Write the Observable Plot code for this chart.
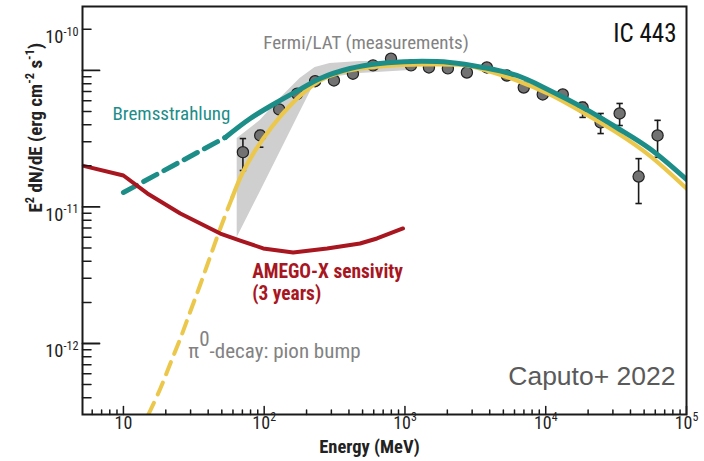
<!DOCTYPE html>
<html>
<head>
<meta charset="utf-8">
<script src="https://cdn.jsdelivr.net/npm/d3@7"></script>
<script src="https://cdn.jsdelivr.net/npm/@observablehq/plot@0.6"></script>
<style>
  html, body { margin: 0; padding: 0; background: #fff; }
</style>
</head>
<body>
<div id="chart"></div>
<script>
// IC 443 gamma-ray spectrum: Fermi/LAT points, pion-decay and bremsstrahlung models,
// and the AMEGO-X 3-year sensitivity curve.

// Fermi/LAT measurements (MeV, erg cm^-2 s^-1)
const fermiEnergy = [70.6, 93.7, 127.8, 171.4, 230, 313, 427, 593, 796, 1104, 1480, 2018,
  2754, 3817, 5289, 6981, 9524, 13213, 18281, 24547, 33497, 45690, 62300];
const fermiFlux = [2.52e-11, 3.34e-11, 5.18e-11, 6.75e-11, 8.34e-11, 8.45e-11, 9.46e-11,
  1.089e-10, 1.218e-10, 1.089e-10, 1.052e-10, 1.035e-10, 9.66e-11, 1.052e-10, 9.18e-11,
  7.50e-11, 6.67e-11, 6.67e-11, 5.36e-11, 4.16e-11, 4.84e-11, 1.67e-11, 3.34e-11];
const fermiLow = [1.85e-11, 2.74e-11, null, null, null, null, null, null, null, null, null, null,
  null, null, null, null, null, null, 4.53e-11, 3.45e-11, 3.95e-11, 1.06e-11, 2.31e-11];
const fermiHigh = [3.17e-11, 3.63e-11, null, null, null, null, null, null, null, null, null, null,
  null, null, null, null, null, null, 5.83e-11, 4.84e-11, 5.73e-11, 2.26e-11, 4.31e-11];

// Fermi/LAT uncertainty band
const bandEnergy = [64.3, 93.7, 129.7, 179.7, 230, 294, 479, 1084];
const bandLow = [5.98e-12, 1.29e-11, 2.52e-11, 4.94e-11, 8.17e-11, 8.89e-11, 9.50e-11, 1.0e-10];
const bandHigh = [3.17e-11, 4.30e-11, 6.24e-11, 8.74e-11, 1.052e-10, 1.125e-10, 1.164e-10, 1.164e-10];

// Bremsstrahlung model (dashed below the LAT range)
const bremsDashEnergy = [10, 52.9];
const bremsDashFlux = [1.277e-11, 3.23e-11];
const bremsEnergy = [52.9, 79.6, 129.9, 180, 249.6, 407.3, 664.7, 1139.6, 2085, 3575, 6228,
  10676, 18298, 31880, 54660, 100000];
const bremsFlux = [3.23e-11, 4.45e-11, 6.03e-11, 7.26e-11, 8.74e-11, 1.034e-10, 1.126e-10,
  1.164e-10, 1.145e-10, 1.052e-10, 9.19e-11, 7.14e-11, 5.36e-11, 3.82e-11, 2.68e-11, 1.59e-11];

// Pion-decay model (dashed below the LAT range)
const pionDashEnergy = [15.04, 18.30, 21.54, 25.37, 29.87, 35.17, 41.40, 48.75, 59.30];
const pionDashFlux = [3.02e-13, 4.68e-13, 7.14e-13, 1.088e-12, 1.716e-12, 2.705e-12, 4.34e-12,
  6.96e-12, 1.174e-11];
const pionEnergy = [59.30, 69.82, 86.35, 113.9, 150.4, 195.4, 249.6, 345.9, 664.7, 1432, 2753,
  3575, 6228, 10676, 18298, 31880, 54660, 100000];
const pionFlux = [1.174e-11, 1.759e-11, 2.594e-11, 3.89e-11, 5.45e-11, 7.02e-11, 8.45e-11,
  9.67e-11, 1.070e-10, 1.107e-10, 1.088e-10, 1.017e-10, 8.45e-11, 6.67e-11, 4.92e-11, 3.51e-11,
  2.38e-11, 1.366e-11];

// AMEGO-X sensitivity, 3 years
const amegoEnergy = [5.12, 10, 14.80, 25.37, 35.17, 48.75, 67.57, 98.4, 160.6, 279.8, 479.6, 633.0, 967.9];
const amegoFlux = [2.01e-11, 1.701e-11, 1.256e-11, 8.96e-12, 7.57e-12, 6.39e-12, 5.68e-12,
  4.97e-12, 4.64e-12, 4.97e-12, 5.40e-12, 5.88e-12, 6.96e-12];

// Annotations placed in data coordinates
const noteText = ["Fermi/LAT (measurements)", "Bremsstrahlung", "AMEGO-X sensivity", "(3 years)", "π^{0}-decay: pion bump"];
const noteEnergy = [529, 8.36, 82.2, 82.2, 28.9];
const noteFlux = [1.60e-10, 4.80e-11, 3.34e-12, 2.32e-12, 8.74e-13];

// Axis ticks and labels
const xMajor = [10, 100, 1e3, 1e4, 1e5];
const xTickLabels = ["10", "10^{2}", "10^{3}", "10^{4}", "10^{5}"];
const yMajor = [1e-12, 1e-11, 1e-10];
const yLabelTicks = [2e-10, 1e-11, 1e-12];
const yTickLabels = ["10^{-10}", "10^{-11}", "10^{-12}"];

const xDomain = [5.12, 1e5];
const yDomain = [3.02e-13, 2.94e-10];

const minorTicks = (lo, hi) => d3.range(Math.floor(Math.log10(lo)), Math.ceil(Math.log10(hi)))
  .flatMap(k => d3.range(2, 10).map(m => m * 10 ** k))
  .filter(v => v >= lo && v <= hi);
const xMinor = minorTicks(...xDomain);
const yMinor = minorTicks(...yDomain);

const rows = (E, F) => E.map((e, i) => ({e, f: F[i]}));
const fermi = fermiEnergy.map((e, i) => ({e, f: fermiFlux[i], lo: fermiLow[i], hi: fermiHigh[i]}));
const fermiErr = fermi.filter(d => d.lo != null);
const band = bandEnergy.map((e, i) => ({e, lo: bandLow[i], hi: bandHigh[i]}));
const notes = noteText.map((t, i) => ({t, e: noteEnergy[i], f: noteFlux[i]}));

const NARROW = "'Liberation Sans Narrow', 'Roboto Condensed', 'DejaVu Sans Condensed', 'Arial Narrow', sans-serif";
const TEAL = "#1d8d88";
const YELLOW = "#ebc84b";
const RED = "#a8161f";
const GREYTEXT = "#828282";
const INK = "#1a1a1a";

// inward tick: a short stroke drawn from the axis line
const tickShape = {draw(c, l) { c.moveTo(0, 0); c.lineTo(0, -l); }};
// horizontal cap for the error bars
const capSymbol = {draw(c, size) { const w = Math.sqrt(size / Math.PI); c.moveTo(-w, 0); c.lineTo(w, 0); }};

const noteColor = [GREYTEXT, TEAL, RED, RED, GREYTEXT];
const noteWeight = ["normal", "normal", "bold", "bold", "normal"];
const noteAnchor = ["middle", "start", "start", "start", "start"];
const noteSize = [19, 19, 19.4, 19.4, 21];

const chart = Plot.plot({
  width: 704,
  height: 461,
  marginLeft: 82,
  marginRight: 18,
  marginTop: 6,
  marginBottom: 47,
  x: {type: "log", domain: xDomain, axis: null},
  y: {type: "log", domain: yDomain, axis: null},
  style: {fontFamily: NARROW, background: "#fff", overflow: "visible"},
  marks: [
    Plot.areaY(band, {x: "e", y1: "lo", y2: "hi", fill: "#cfcfcf"}),
    Plot.ruleX(fermiErr, {x: "e", y1: "lo", y2: "hi", stroke: INK, strokeWidth: 1.6}),
    Plot.dot(fermiErr, {x: "e", y: "lo", symbol: capSymbol, r: 3.2, stroke: INK, strokeWidth: 1.6}),
    Plot.dot(fermiErr, {x: "e", y: "hi", symbol: capSymbol, r: 3.2, stroke: INK, strokeWidth: 1.6}),
    Plot.dot(fermi, {x: "e", y: "f", r: 5.6, fill: "#727272", stroke: "#202020", strokeWidth: 1.2}),

    Plot.line(rows(pionDashEnergy, pionDashFlux), {x: "e", y: "f", stroke: YELLOW, strokeWidth: 4,
      strokeDasharray: "13,9", curve: "catmull-rom", clip: true}),
    Plot.line(rows(pionEnergy, pionFlux), {x: "e", y: "f", stroke: YELLOW, strokeWidth: 4.2,
      curve: "catmull-rom", clip: true}),
    Plot.line(rows(bremsDashEnergy, bremsDashFlux), {x: "e", y: "f", stroke: TEAL, strokeWidth: 5,
      strokeDasharray: "15,8"}),
    Plot.line(rows(bremsEnergy, bremsFlux), {x: "e", y: "f", stroke: TEAL, strokeWidth: 5,
      curve: "catmull-rom", clip: true}),
    Plot.line(rows(amegoEnergy, amegoFlux), {x: "e", y: "f", stroke: RED, strokeWidth: 4,
      strokeLinejoin: "round", clip: true}),

    Plot.frame({stroke: INK, strokeWidth: 2}),

    Plot.vectorX(xMajor, {frameAnchor: "bottom", length: 8, anchor: "start", shape: tickShape, stroke: INK, strokeWidth: 1.5}),
    Plot.vectorX(xMinor, {frameAnchor: "bottom", length: 4.5, anchor: "start", shape: tickShape, stroke: INK, strokeWidth: 1.5}),
    Plot.vectorY(yMajor, {frameAnchor: "left", length: 17, rotate: 90, anchor: "start", shape: tickShape, stroke: INK, strokeWidth: 1.8}),
    Plot.vectorY(yMinor, {frameAnchor: "left", length: 8.5, rotate: 90, anchor: "start", shape: tickShape, stroke: INK, strokeWidth: 1.5}),

    Plot.text(xMajor, {x: d => d, frameAnchor: "bottom", dy: 14, text: (d, i) => xTickLabels[i],
      fontSize: 18, fill: "#222"}),
    Plot.text(yLabelTicks, {y: d => d, frameAnchor: "left", dx: -4, dy: 8, textAnchor: "end",
      text: (d, i) => yTickLabels[i], fontSize: 18.5, fill: "#222"}),
    Plot.text(["Energy (MeV)"], {frameAnchor: "bottom", dx: -15, dy: 38, text: d => d,
      fontSize: 18.5, fontWeight: "bold", fill: "#222"}),
    Plot.text(["E^{2} dN/dE (erg cm^{-2} s^{-1})"], {frameAnchor: "left", dx: -47, dy: 2, rotate: -90,
      text: d => d, fontSize: 19, fontWeight: "bold", fill: "#222"}),

    Plot.text(notes, {x: "e", y: "f", text: "t", textAnchor: "start", fontSize: 19}),
    Plot.text(["IC 443"], {frameAnchor: "top-right", dx: -10, dy: 18, textAnchor: "end", text: d => d,
      fontSize: 25, fill: "#111"}),
    Plot.text(["Caputo+ 2022"], {frameAnchor: "bottom-right", dx: -11, dy: -30, textAnchor: "end", text: d => d,
      fontSize: 26.5, fill: "#5a5a5a", fontFamily: "'Liberation Sans', Arial, sans-serif"})
  ]
});

document.getElementById("chart").appendChild(chart);

// per-note colour, weight, anchor and size
chart.querySelectorAll("g[aria-label='text'] text").forEach(node => {
  const i = noteText.indexOf(node.textContent);
  if (i < 0) return;
  node.setAttribute("fill", noteColor[i]);
  node.setAttribute("font-weight", noteWeight[i]);
  node.setAttribute("text-anchor", noteAnchor[i]);
  node.setAttribute("font-size", noteSize[i]);
});

// turn "^{...}" runs into raised tspans
chart.querySelectorAll("text").forEach(node => {
  const s = node.textContent;
  if (!s.includes("^{")) return;
  const base = parseFloat(getComputedStyle(node).fontSize);
  const big = s.startsWith("π");
  const size = big ? base * 1.0 : base * 0.66;
  const rise = big ? base * 0.6 : base * 0.42;
  const parts = s.split(/\^\{([^}]*)\}/);
  while (node.firstChild) node.removeChild(node.firstChild);
  let raised = false;
  parts.forEach((p, i) => {
    if (!p) return;
    const t = document.createElementNS("http://www.w3.org/2000/svg", "tspan");
    t.textContent = p;
    if (i % 2) { t.setAttribute("dy", -rise); t.setAttribute("font-size", size); raised = true; }
    else if (raised) { t.setAttribute("dy", rise); raised = false; }
    node.appendChild(t);
  });
});
</script>
</body>
</html>
